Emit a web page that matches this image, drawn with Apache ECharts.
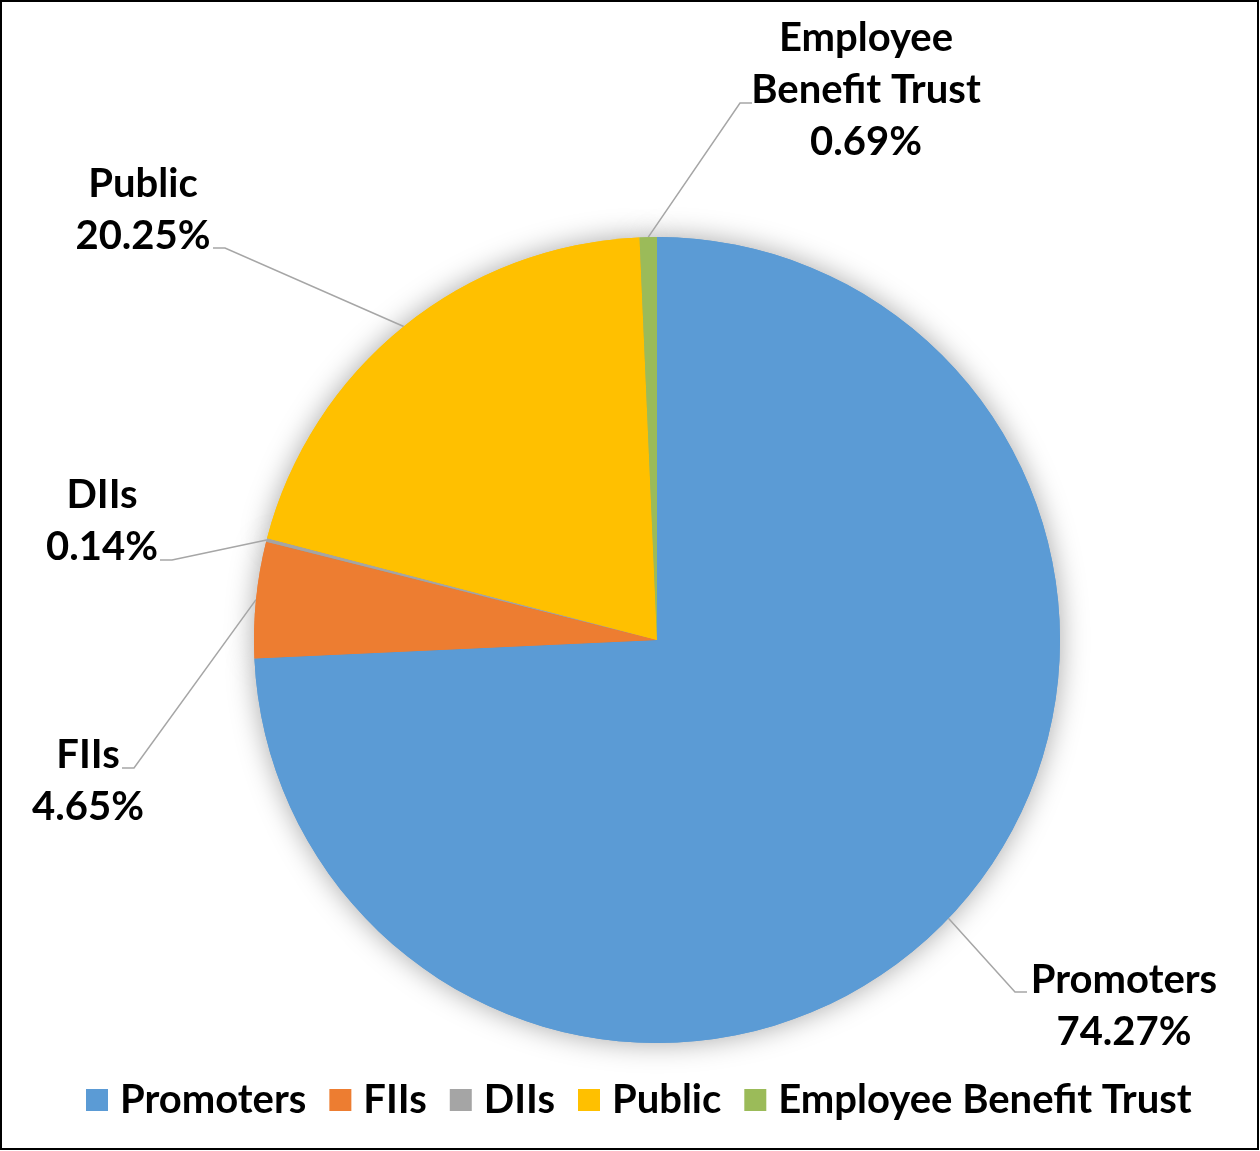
<!DOCTYPE html>
<html>
<head>
<meta charset="utf-8">
<script src="https://cdn.jsdelivr.net/npm/echarts@6/dist/echarts.min.js"></script>
<style>
  html, body { margin: 0; padding: 0; background: #fff; }
  #chart { width: 1260px; height: 1151px; }
</style>
</head>
<body>
<div id="chart"></div>
<script>
// Shareholding pattern (%)
const categories = ['Promoters', 'FIIs', 'DIIs', 'Public', 'Employee Benefit Trust'];
const shares = [74.27, 4.65, 0.14, 20.25, 0.69];
const colors = ['#5B9BD5', '#ED7D31', '#A5A5A5', '#FFC000', '#9BBB59'];

// Multi-line label text for each slice
const labelNames = {
  'Promoters': 'Promoters',
  'FIIs': 'FIIs',
  'DIIs': 'DIIs',
  'Public': 'Public',
  'Employee Benefit Trust': 'Employee\nBenefit Trust'
};

// Where each label sits (centre of the text block) and where its leader line ends
const labelPlacement = {
  'Promoters':              { cx: 1124, cy: 1006, ex: 1027, ey: 992,  dir: -1 },
  'FIIs':                   { cx: 88,   cy: 781,  ex: 122,  ey: 768,  dir: 1 },
  'DIIs':                   { cx: 102,  cy: 521,  ex: 160,  ey: 560,  dir: 1 },
  'Public':                 { cx: 143,  cy: 210,  ex: 213,  ey: 248,  dir: 1 },
  'Employee Benefit Trust': { cx: 866,  cy: 90,   ex: 752,  ey: 103,  dir: -1 }
};

const FONT = 'Lato';
const pieData = categories.map((name, i) => ({
  name: name,
  value: shares[i],
  itemStyle: { color: colors[i] }
}));

const chart = echarts.init(document.getElementById('chart'), null, { renderer: 'canvas' });

chart.setOption({
  backgroundColor: '#ffffff',
  animation: false,
  graphic: [{
    type: 'rect',
    shape: { x: 1, y: 1, width: 1257, height: 1148 },
    style: { fill: 'none', stroke: '#000', lineWidth: 2 },
    z: 100
  }],
  legend: {
    bottom: 26,
    left: 81,
    itemWidth: 22,
    itemHeight: 22,
    itemGap: 23,
    icon: 'rect',
    textStyle: { fontFamily: FONT, fontWeight: 'bold', fontSize: 40, color: '#000', padding: [0, 0, 0, 7] },
    data: categories
  },
  series: [
    {
      // soft drop shadow under the pie
      type: 'pie',
      silent: true,
      center: [657, 640],
      radius: [0, 403],
      startAngle: 90,
      clockwise: true,
      label: { show: false },
      labelLine: { show: false },
      itemStyle: { shadowBlur: 28, shadowColor: 'rgba(0,0,0,0.35)' },
      data: pieData,
      z: 1
    },
    {
      type: 'pie',
      center: [657, 640],
      radius: [0, 403],
      startAngle: 90,
      clockwise: true,
      avoidLabelOverlap: false,
      itemStyle: { borderWidth: 0 },
      label: {
        show: true,
        position: 'outside',
        fontFamily: FONT,
        fontWeight: 'bold',
        fontSize: 40,
        lineHeight: 52,
        color: '#000',
        align: 'center',
        formatter: p => labelNames[p.name] + '\n' + p.value.toFixed(2) + '%'
      },
      labelLine: {
        show: true,
        length: 20,
        length2: 12,
        lineStyle: { color: '#A6A6A6', width: 1.5 }
      },
      labelLayout: function (params) {
        const name = categories[params.dataIndex];
        const pl = labelPlacement[name];
        const start = params.labelLinePoints ? params.labelLinePoints[0] : [pl.ex, pl.ey];
        return {
          x: pl.cx,
          y: pl.cy,
          align: 'center',
          verticalAlign: 'middle',
          labelLinePoints: [start, [pl.ex + pl.dir * 12, pl.ey], [pl.ex, pl.ey]]
        };
      },
      data: pieData,
      z: 2
    }
  ]
});
</script>
</body>
</html>
